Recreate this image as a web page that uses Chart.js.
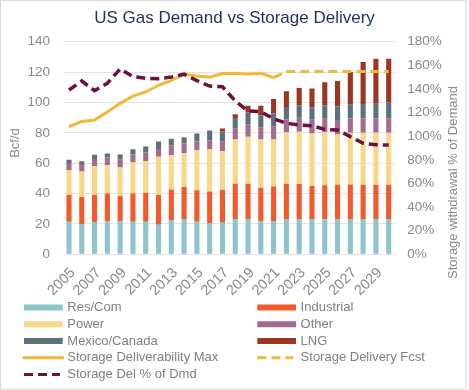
<!DOCTYPE html>
<html>
<head>
<meta charset="utf-8">
<script src="https://cdn.jsdelivr.net/npm/chart.js@4.4.1/dist/chart.umd.min.js"></script>
<style>
  html, body { margin: 0; padding: 0; background: #ffffff; }
  #wrap { position: relative; width: 469px; height: 390px; }
  canvas { display: block; }
</style>
</head>
<body>
<div id="wrap"><canvas id="c" width="469" height="390"></canvas></div>
<script>
// ---- Data ----
const years = ['2005','2006','2007','2008','2009','2010','2011','2012','2013','2014','2015','2016','2017',
               '2018','2019','2020','2021','2022','2023','2024','2025','2026','2027','2028','2029','2030'];
const resCom     = [21.4,19.6,21.2,21.8,21.6,21.4,21.4,19.4,22.2,23.3,21.4,20.2,20.7,23.3,23.3,21.6,22.0,23.3,23.3,22.9,23.1,23.1,23.3,23.3,23.3,23.3];
const industrial = [17.8,18.1,18.0,18.3,16.8,18.7,19.1,19.6,20.5,21.0,20.7,21.2,21.6,23.2,23.2,22.2,22.7,23.2,23.0,22.1,22.3,22.7,22.7,22.5,22.5,22.5];
const power      = [16.1,16.9,19.0,18.5,18.7,20.3,21.0,25.2,22.5,22.2,26.4,27.8,25.6,29.1,30.9,31.8,30.9,33.7,34.4,34.6,35.0,33.1,34.0,34.2,34.2,34.2];
const other      = [4.9,4.9,4.6,5.1,5.5,5.3,5.5,5.2,6.4,6.5,6.0,5.9,6.6,7.1,8.1,8.1,8.8,8.6,9.3,9.0,8.9,9.5,9.5,9.5,9.5,9.5];
const mexCan     = [2.0,1.8,2.7,2.6,3.1,3.5,4.0,4.9,4.5,4.1,5.1,6.4,6.6,7.0,7.8,7.8,8.4,8.2,8.1,8.2,8.8,9.0,9.0,9.4,9.6,10.4];
const lng        = [0,0,0,0,0,0,0,0,0,0,0,0,1.8,2.6,4.6,6.4,9.4,10.3,11.4,12.3,15.2,16.8,21.6,27.8,29.6,28.8];
const storageMax = [84.0,87.5,88.4,93.7,99.4,104.2,106.9,111.3,114.6,118.6,117.4,116.6,119.1,119.2,118.8,119.2,116.4,
                    null,null,null,null,null,null,null,null,null];
const storageFcst= [null,null,null,null,null,null,null,null,null,null,null,null,null,null,null,null,116.4,
                    120.3,120.3,120.3,120.3,120.3,120.3,120.3,120.3,120.3];
const delPctDmd  = [139.1,146.7,138.5,144.8,156.9,150.4,149.0,148.7,150.1,152.5,147.0,142.5,141.9,129.8,121.3,120.7,114.7,
                    110.9,109.5,108.9,105.8,105.2,99.6,94.0,92.8,92.5];
const leftTicks  = [0,20,40,60,80,100,120,140];
const rightTicks = [0,20,40,60,80,100,120,140,160,180];
const xTickLabels = years.map((y, i) => (i % 2 === 0 ? y : ''));

const FONT = "'Liberation Sans', Arial, sans-serif";
const TICK_COLOR = '#8a8a8a';
const LEGEND_COLOR = '#7f7f7f';

function bar(label, data, color) {
  return { type: 'bar', label, data, backgroundColor: color, borderWidth: 0,
           yAxisID: 'y', stack: 'demand', order: 5,
           barPercentage: 0.4, categoryPercentage: 1.0 };
}

const datasets = [
  bar('Res/Com', resCom, '#8dc5c8'),
  bar('Industrial', industrial, '#f15a2b'),
  bar('Power', power, '#f8d68a'),
  bar('Other', other, '#a36b8d'),
  bar('Mexico/Canada', mexCan, '#5f7178'),
  bar('LNG', lng, '#9c3622'),
  { type: 'line', label: 'Storage Deliverability Max', data: storageMax, yAxisID: 'y', stack: 'l1',
    borderColor: '#f1b83a', borderWidth: 3, pointRadius: 0, tension: 0, fill: false, order: 2 },
  { type: 'line', label: 'Storage Delivery Fcst', data: storageFcst, yAxisID: 'y', stack: 'l2',
    borderColor: '#f1b83a', borderWidth: 3, borderDash: [9, 5], pointRadius: 0, tension: 0, fill: false, order: 2 },
  { type: 'line', label: 'Storage Del % of Dmd', data: delPctDmd, yAxisID: 'y1', stack: 'l3',
    borderColor: '#6c1140', borderWidth: 3.5, borderDash: [9, 5], pointRadius: 0, tension: 0, fill: false, order: 1 }
];

const decor = {
  id: 'decor',
  beforeDraw(chart) {
    const ctx = chart.ctx;
    ctx.save();
    ctx.fillStyle = '#ffffff';
    ctx.fillRect(0, 0, chart.width, chart.height);
    ctx.restore();
  },
  afterDraw(chart) {
    const ctx = chart.ctx;
    ctx.save();
    // frame
    ctx.strokeStyle = '#d9d9d9';
    ctx.lineWidth = 1;
    ctx.strokeRect(0.5, 0.5, 465.5, 388.5);
    // axis titles
    ctx.fillStyle = TICK_COLOR;
    ctx.font = '13px ' + FONT;
    ctx.textAlign = 'center';
    ctx.textBaseline = 'middle';
    ctx.save();
    ctx.translate(15, 143);
    ctx.rotate(-Math.PI / 2);
    ctx.fillText('Bcf/d', 0, 0);
    ctx.restore();
    ctx.save();
    ctx.translate(453.5, 182.5);
    ctx.rotate(-Math.PI / 2);
    ctx.fillText('Storage withdrawal % of Demand', 0, 0);
    ctx.restore();
    // legend (two columns)
    const cols = [24, 257.3];
    const sw = 38.7;
    ctx.font = '13px ' + FONT;
    ctx.textAlign = 'left';
    chart.data.datasets.forEach((ds, i) => {
      const col = i % 2, row = Math.floor(i / 2);
      const x = cols[col];
      const cy = 307.5 + row * 16.75;
      if (ds.type === 'bar') {
        ctx.fillStyle = ds.backgroundColor;
        ctx.fillRect(x, cy - 3, sw, 6);
      } else {
        ctx.strokeStyle = ds.borderColor;
        ctx.lineWidth = 3;
        ctx.setLineDash(ds.borderDash || []);
        ctx.lineCap = ds.borderDash ? 'butt' : 'round';
        ctx.beginPath();
        ctx.moveTo(x, cy);
        ctx.lineTo(ds.borderDash ? x + 36 : x + sw, cy);
        ctx.stroke();
        ctx.setLineDash([]);
      }
      ctx.fillStyle = LEGEND_COLOR;
      ctx.fillText(ds.label, x + 43.3, cy);
    });
    ctx.restore();
  }
};

new Chart(document.getElementById('c'), {
  data: { labels: years, datasets },
  options: {
    responsive: false,
    animation: false,
    layout: { padding: { left: 0, right: 0, top: 0, bottom: 0 } },
    plugins: {
      legend: { display: false },
      tooltip: { enabled: false },
      title: {
        display: true,
        text: 'US Gas Demand vs Storage Delivery',
        color: '#1e2f5f',
        font: { family: FONT, size: 17, weight: 'normal' },
        padding: { top: 8.5, bottom: 12.8 }
      }
    },
    scales: {
      x: {
        stacked: true,
        offset: true,
        grid: { display: false, drawTicks: false },
        border: { display: false },
        ticks: {
          autoSkip: false, maxRotation: 45, minRotation: 45, padding: 10, labelOffset: 4,
          color: TICK_COLOR, font: { family: FONT, size: 14.5 },
          callback: (v, i) => xTickLabels[i]
        },
        afterFit: s => { s.height = 135.7; }
      },
      y: {
        type: 'linear', position: 'left', stacked: true,
        min: 0, max: 140,
        afterBuildTicks: s => { s.ticks = leftTicks.map(v => ({ value: v })); },
        grid: { color: '#e4e4e4', lineWidth: 1, drawTicks: false },
        border: { display: false },
        ticks: { padding: 12.6, color: TICK_COLOR, font: { family: FONT, size: 13.5 } },
        afterFit: s => { s.width = 62.6; }
      },
      y1: {
        type: 'linear', position: 'right', stacked: false,
        min: 0, max: 180,
        afterBuildTicks: s => { s.ticks = rightTicks.map(v => ({ value: v })); },
        grid: { display: false, drawTicks: false },
        border: { display: false },
        ticks: { padding: 12.2, color: TICK_COLOR, font: { family: FONT, size: 13.5 },
                 callback: v => v + '%' },
        afterFit: s => { s.width = 73.9; }
      }
    }
  },
  plugins: [decor]
});
</script>
</body>
</html>
